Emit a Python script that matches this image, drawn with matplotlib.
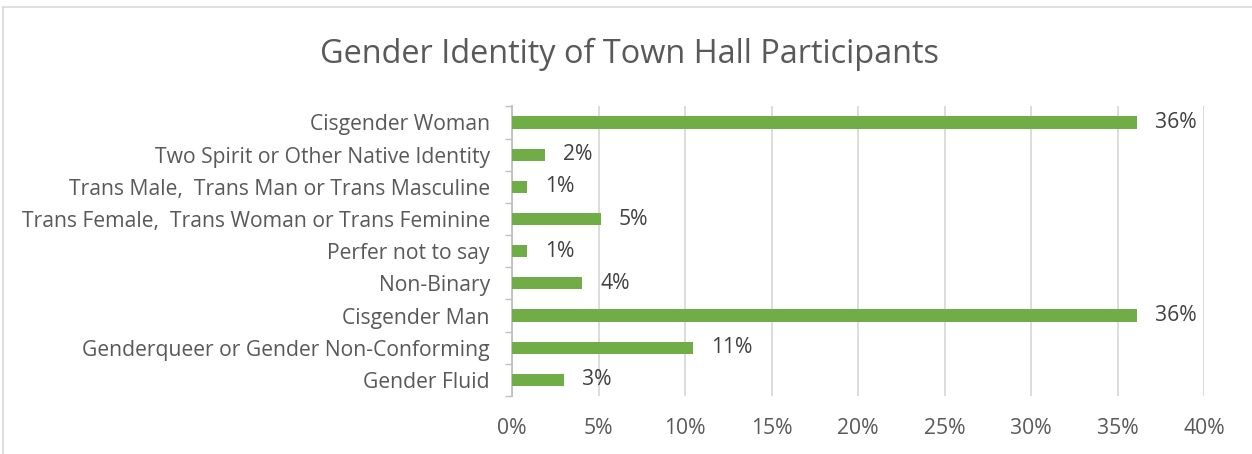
import numpy as np
import matplotlib.pyplot as plt
from matplotlib.lines import Line2D

# dados (de cima para baixo)
categories = [
    "Cisgender Woman",
    "Two Spirit or Other Native Identity",
    "Trans Male,  Trans Man or Trans Masculine",
    "Trans Female,  Trans Woman or Trans Feminine",
    "Perfer not to say",
    "Non-Binary",
    "Cisgender Man",
    "Genderqueer or Gender Non-Conforming",
    "Gender Fluid",
]
values = [36.1, 1.93, 0.87, 5.13, 0.87, 4.07, 36.1, 10.46, 3.0]
labels = ["36%", "2%", "1%", "5%", "1%", "4%", "36%", "11%", "3%"]
xticks = [0, 5, 10, 15, 20, 25, 30, 35, 40]

plt.rcParams['font.family'] = ['Open Sans', 'DejaVu Sans']
grey_text = '#595959'
fs = 15.2

fig = plt.figure(figsize=(12.52, 4.54), dpi=100)
ax = fig.add_axes([512 / 1252, 1 - 396 / 454, (1204.3 - 512) / 1252, (396 - 106.4) / 454])

y = np.arange(len(categories))
ax.barh(y, values, height=0.38, color='#70ad47', zorder=3)
ax.set_ylim(len(categories) - 0.5, -0.5)
ax.set_xlim(0, 40)

for yi, v, lab in zip(y, values, labels):
    ax.annotate(lab, (v, yi), xytext=(13, 0), textcoords='offset points',
                va='center', ha='left', fontsize=fs, color='#404040')

ax.set_yticks(y)
ax.set_yticklabels(categories, fontsize=fs, color=grey_text)
ax.set_yticks(np.arange(len(categories) + 1) - 0.5, minor=True)
ax.tick_params(axis='y', which='major', length=0, pad=16)
ax.tick_params(axis='y', which='minor', length=5, color='#bfbfbf', width=1)

ax.set_xticks(xticks)
ax.set_xticklabels([f"{t}%" for t in xticks], fontsize=fs, color=grey_text)
ax.tick_params(axis='x', length=0, pad=16)
ax.grid(axis='x', color='#d9d9d9', linewidth=1.3, zorder=0)

for s in ['top', 'right', 'bottom']:
    ax.spines[s].set_visible(False)
ax.spines['left'].set_color('#bfbfbf')
ax.spines['left'].set_linewidth(1.3)

fig.text(630 / 1252, 1 - 54 / 454, "Gender Identity of Town Hall Participants",
         ha='center', va='center', fontsize=23.4, color=grey_text)

# moldura do gráfico (cortada à direita e embaixo)
fig.add_artist(Line2D([3 / 1252, 1], [1 - 7 / 454, 1 - 7 / 454], color='#d9d9d9', lw=1.2))
fig.add_artist(Line2D([3 / 1252, 3 / 1252], [0, 1 - 7 / 454], color='#d9d9d9', lw=1.2))

fig.savefig('out.png', dpi=100)
